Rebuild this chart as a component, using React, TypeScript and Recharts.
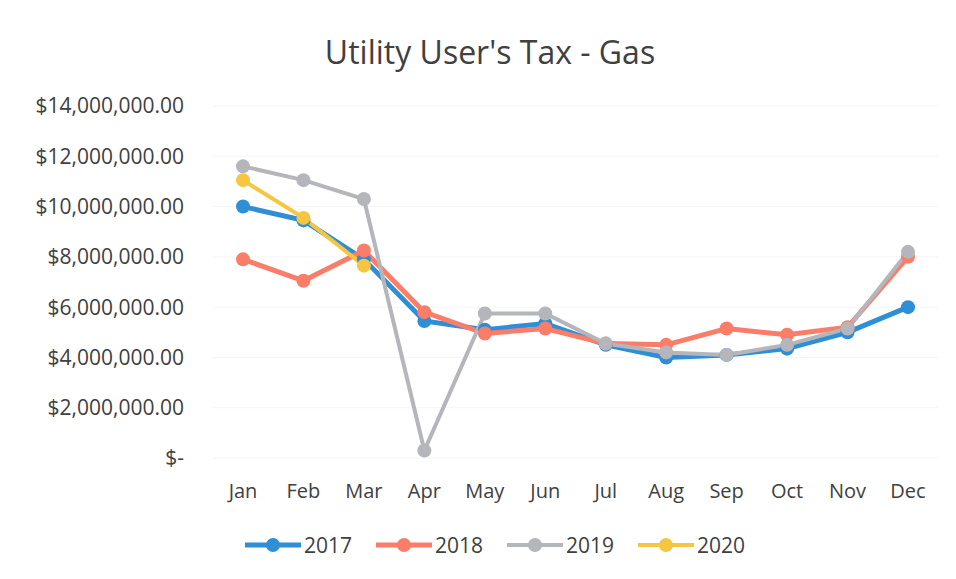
import React from "react";
import { LineChart, Line, XAxis, YAxis, CartesianGrid } from "recharts";

const months = ["Jan", "Feb", "Mar", "Apr", "May", "Jun", "Jul", "Aug", "Sep", "Oct", "Nov", "Dec"];
const y2017 = [10.0, 9.45, 7.9, 5.45, 5.1, 5.35, 4.5, 4.0, 4.1, 4.35, 5.0, 6.0];
const y2018 = [7.9, 7.05, 8.25, 5.8, 4.95, 5.15, 4.55, 4.5, 5.15, 4.9, 5.2, 8.0];
const y2019 = [11.6, 11.05, 10.3, 0.3, 5.75, 5.75, 4.55, 4.2, 4.1, 4.5, 5.15, 8.2];
const y2020: (number | null)[] = [11.05, 9.55, 7.65, null, null, null, null, null, null, null, null, null];
const yTicks = [0, 2, 4, 6, 8, 10, 12, 14];

const series = [
  { key: "2017", values: y2017, color: "#2E8FD6", width: 5 },
  { key: "2018", values: y2018, color: "#F97D68", width: 5 },
  { key: "2019", values: y2019, color: "#B5B5BC", width: 4 },
  { key: "2020", values: y2020, color: "#F6C642", width: 4 },
];

const data = months.map((m, i) => {
  const row: any = { month: m };
  series.forEach((s) => {
    const v = s.values[i];
    row[s.key] = v == null ? null : v * 1000000;
  });
  return row;
});

const fmt = (v: number) => {
  if (v === 0) return "$-";
  return "$" + v.toLocaleString("en-US", { minimumFractionDigits: 2, maximumFractionDigits: 2 });
};

const FONT = "'Open Sans', sans-serif";

const LegendBlock = () => (
  <div
    style={{
      position: "absolute",
      top: 523,
      left: 237,
      display: "flex",
      fontFamily: FONT,
      fontSize: 21,
      color: "#404040",
    }}
  >
    {series.map((s) => (
      <div key={s.key} style={{ display: "flex", alignItems: "center", marginRight: 24 }}>
        <svg width={56} height={22}>
          <line x1={0} y1={11} x2={56} y2={11} stroke={s.color} strokeWidth={s.width} />
          <circle cx={28} cy={11} r={7} fill={s.color} />
        </svg>
        <span style={{ marginLeft: 3 }}>{s.key}</span>
      </div>
    ))}
  </div>
);

export default function App() {
  return (
    <div style={{ position: "relative", width: 940, height: 571, background: "#fff" }}>
      <div
        style={{
          position: "absolute",
          top: 22,
          left: 0,
          width: 964,
          textAlign: "center",
          fontFamily: FONT,
          fontSize: 32,
          color: "#404040",
        }}
      >
        Utility User's Tax - Gas
      </div>
      <LineChart width={940} height={571} data={data} margin={{ top: 98, right: 10, bottom: 0, left: 0 }}>
        <CartesianGrid vertical={false} stroke="#f5f5f5" />
        <XAxis
          dataKey="month"
          axisLine={false}
          tickLine={false}
          tickSize={0}
          tickMargin={26}
          height={121}
          padding={{ left: 30, right: 30 }}
          tick={{ fontFamily: FONT, fontSize: 20, fill: "#404040" }}
        />
        <YAxis
          width={205}
          domain={[0, 14000000]}
          ticks={yTicks.map((t) => t * 1000000)}
          tickFormatter={fmt}
          axisLine={false}
          tickLine={false}
          tickSize={0}
          tickMargin={29}
          tick={{ fontFamily: FONT, fontSize: 21, fill: "#404040" }}
        />
        {series.map((s) => (
          <Line
            key={s.key}
            dataKey={s.key}
            stroke={s.color}
            strokeWidth={s.width}
            dot={{ r: 7, fill: s.color, stroke: s.color, strokeWidth: 0 }}
            isAnimationActive={false}
            connectNulls={false}
          />
        ))}
      </LineChart>
      <LegendBlock />
    </div>
  );
}
